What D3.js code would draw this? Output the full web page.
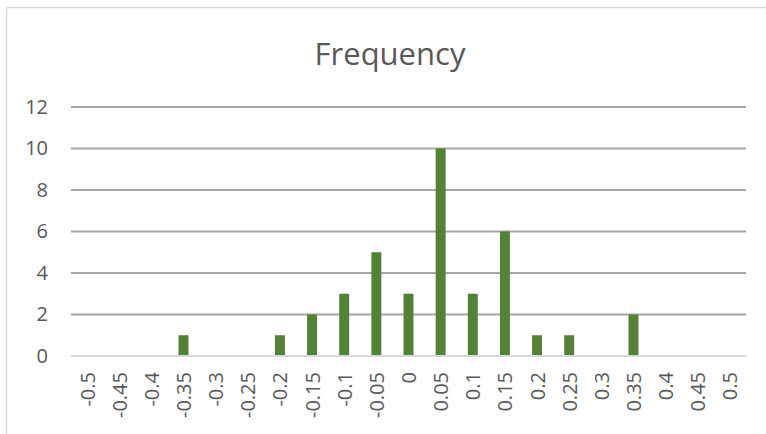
<!DOCTYPE html>
<html>
<head>
<meta charset="utf-8">
<script src="https://cdn.jsdelivr.net/npm/d3@7"></script>
<style>
  html, body { margin: 0; padding: 0; background: #fff; }
  svg { display: block; font-family: "Open Sans", sans-serif; }
</style>
</head>
<body>
<svg id="chart" width="766" height="434"></svg>
<script>
// Histogram bins (bin labels) and the count in each bin
const bins = ["-0.5", "-0.45", "-0.4", "-0.35", "-0.3", "-0.25", "-0.2", "-0.15", "-0.1", "-0.05",
              "0", "0.05", "0.1", "0.15", "0.2", "0.25", "0.3", "0.35", "0.4", "0.45", "0.5"];
const counts = [0, 0, 0, 1, 0, 0, 1, 2, 3, 5, 3, 10, 3, 6, 1, 1, 0, 2, 0, 0, 0];
const yTicks = [0, 2, 4, 6, 8, 10, 12];
const title = "Frequency";

const svg = d3.select("#chart");
const W = 766, H = 434;
const plot = { left: 71, right: 746, top: 107, bottom: 356 };

// Chart frame (left and top edges visible)
svg.append("rect")
  .attr("x", 6.5).attr("y", 7.5)
  .attr("width", W + 10).attr("height", H + 10)
  .attr("fill", "none").attr("stroke", "#d9d9d9").attr("stroke-width", 1.5);

const x = d3.scaleBand().domain(bins)
  .range([plot.left, plot.right]).paddingInner(0.69).paddingOuter(0.345);
const y = d3.scaleLinear().domain([0, 12]).range([plot.bottom, plot.top]);

// Horizontal gridlines
svg.append("g").selectAll("line")
  .data(yTicks.filter(d => d > 0)).join("line")
  .attr("x1", plot.left).attr("x2", plot.right)
  .attr("y1", d => y(d)).attr("y2", d => y(d))
  .attr("stroke", "#a6a6a6").attr("stroke-width", 2);

// Y axis labels
const yAxis = d3.axisLeft(y).tickValues(yTicks).tickSize(0).tickPadding(0);
const gy = svg.append("g").attr("transform", `translate(48,0)`).call(yAxis);
gy.select(".domain").remove();
gy.selectAll("text")
  .attr("font-size", 20).attr("fill", "#595959")
  .attr("font-family", "'Open Sans', sans-serif");

// Bars
svg.append("g").selectAll("rect")
  .data(counts.map((c, i) => ({ bin: bins[i], c })).filter(d => d.c > 0)).join("rect")
  .attr("x", d => x(d.bin))
  .attr("width", x.bandwidth())
  .attr("y", d => y(d.c))
  .attr("height", d => y(0) - y(d.c))
  .attr("fill", "#548235");

// Category axis line
svg.append("line")
  .attr("x1", plot.left).attr("x2", plot.right)
  .attr("y1", y(0)).attr("y2", y(0))
  .attr("stroke", "#d9d9d9").attr("stroke-width", 2);

// Rotated bin labels
const xAxis = d3.axisBottom(x).tickSize(0).tickPadding(0);
const gx = svg.append("g").attr("transform", `translate(0,${y(0)})`).call(xAxis);
gx.select(".domain").remove();
gx.selectAll("text")
  .attr("font-size", 20).attr("fill", "#595959")
  .attr("font-family", "'Open Sans', sans-serif")
  .attr("text-anchor", "end")
  .attr("dy", null).attr("y", 0)
  .attr("dominant-baseline", "central")
  .attr("transform", "translate(0,16) rotate(-90)");

// Title
svg.append("text")
  .attr("x", 390).attr("y", 65)
  .attr("text-anchor", "middle")
  .attr("font-size", 31).attr("fill", "#595959")
  .text(title);
</script>
</body>
</html>
